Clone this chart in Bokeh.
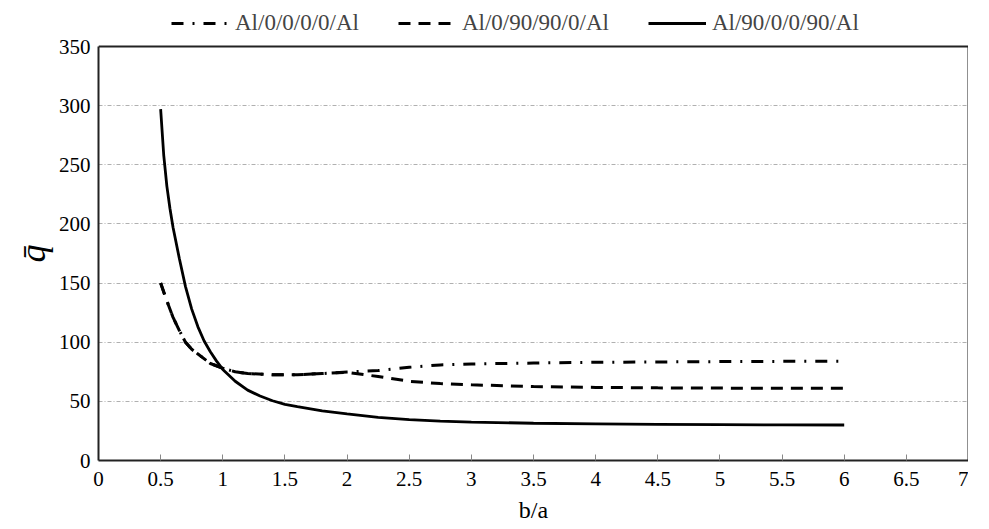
from bokeh.plotting import figure
from bokeh.models import Legend, LegendItem, FixedTicker, Range1d, LinearAxis, Span, Title
from bokeh.embed import file_html
from bokeh.resources import INLINE

# ---- data ----
x_solid = [0.5, 0.525, 0.55, 0.575, 0.6, 0.65, 0.7, 0.75, 0.8, 0.85, 0.9, 0.95, 1.0,
           1.1, 1.2, 1.3, 1.4, 1.5, 1.6, 1.8, 2.0, 2.25, 2.5, 2.75, 3.0, 3.5, 4.0,
           4.5, 5.0, 5.5, 6.0]
y_solid = [297, 258, 232, 213, 197, 171, 147, 128, 113, 101, 92, 84, 77,
           67, 59.5, 54.5, 50.5, 47.5, 45.5, 42, 39.5, 36.5, 34.5, 33.3, 32.5, 31.5, 31,
           30.6, 30.3, 30.1, 30]

x_layer = [0.5, 0.55, 0.6, 0.65, 0.7, 0.75, 0.8, 0.9, 1.0, 1.1, 1.2, 1.4, 1.6, 1.8,
           2.0, 2.25, 2.5, 2.75, 3.0, 3.5, 4.0, 4.5, 5.0, 5.5, 6.0]
y_dashdot = [150, 135, 121, 110, 100, 94, 90, 82, 78, 75, 73.5, 72.5, 72.5, 73.5,
             74.8, 76, 78.8, 80.8, 81.6, 82.4, 83, 83.3, 83.6, 83.8, 84]
y_dashed = [150, 135, 121, 110, 100, 94, 90, 82, 78, 75, 73.5, 72.5, 72.5, 73.5,
            74.5, 71, 67, 65, 64, 62.5, 61.8, 61.4, 61.2, 61.1, 61]

series_names = ["Al/0/0/0/0/Al", "Al/0/90/90/0/Al", "Al/90/0/0/90/Al"]

x_ticks = [0, 0.5, 1, 1.5, 2, 2.5, 3, 3.5, 4, 4.5, 5, 5.5, 6, 6.5, 7]
x_tick_labels = ["0", "0.5", "1", "1.5", "2", "2.5", "3", "3.5", "4", "4.5",
                 "5", "5.5", "6", "6.5", "7"]
y_ticks = [0, 50, 100, 150, 200, 250, 300, 350]
y_axis_max = 350

FONT = "Liberation Serif"
FRAME_H = 452
Y_TOP = y_axis_max * FRAME_H / 414.0   # headroom above the box for the legend

p = figure(frame_width=870, frame_height=FRAME_H, output_backend="svg",
           toolbar_location=None, x_range=Range1d(0, 7), y_range=Range1d(0, Y_TOP),
           min_border_left=98, min_border_right=0, min_border_top=8,
           min_border_bottom=40, background_fill_color="white",
           border_fill_color="white")

p.outline_line_color = None

r1 = p.line(x_layer, y_dashdot, line_color="black", line_width=3,
            line_dash="12 9 2 9")
r2 = p.line(x_layer, y_dashed, line_color="black", line_width=3,
            line_dash="12 8")
r3 = p.line(x_solid, y_solid, line_color="black", line_width=2.8)

# axes
p.xaxis.ticker = FixedTicker(ticks=x_ticks)
p.xaxis.major_label_overrides = {t: s for t, s in zip(x_ticks, x_tick_labels)}
p.yaxis.ticker = FixedTicker(ticks=y_ticks)
p.yaxis.bounds = (0, y_axis_max)
p.xaxis.minor_tick_line_color = None
p.yaxis.minor_tick_line_color = None
p.xaxis.major_tick_in = 6
p.xaxis.major_tick_out = 0
p.xaxis.major_tick_line_color = "#888888"
p.yaxis.major_tick_line_color = None
p.yaxis.major_tick_out = 0
for ax in (p.xaxis, p.yaxis):
    ax.axis_line_color = "#222222"
    ax.axis_line_width = 2
    ax.major_label_text_font = FONT
    ax.major_label_text_color = "black"
    ax.axis_label_text_font = FONT
    ax.axis_label_text_color = "black"
p.xaxis.major_label_text_font_size = "21px"
p.yaxis.major_label_text_font_size = "21px"
p.xaxis.major_label_standoff = 11
p.yaxis.major_label_standoff = 8
p.xaxis.axis_label = "b/a"
p.xaxis.axis_label_text_font_size = "24px"
p.xaxis.axis_label_text_font_style = "normal"
p.xaxis.axis_label_standoff = 8

# y-axis title (as a side title so it can sit at the box's middle)
ytitle = Title(text="q\u0304", align="left", offset=198, standoff=4,
               vertical_align="middle",
               text_font=FONT, text_font_size="36px", text_font_style="italic",
               text_color="black")
p.add_layout(ytitle, "left")

# right side and top of the box
right_ax = LinearAxis(ticker=FixedTicker(ticks=[]), bounds=(0, y_axis_max),
                      axis_line_color="#222222", axis_line_width=2,
                      major_tick_line_color=None, minor_tick_line_color=None,
                      major_label_standoff=0, axis_label_standoff=0)
p.add_layout(right_ax, "right")
p.add_layout(Span(location=y_axis_max, dimension="width",
                  line_color="#222222", line_width=2))

p.xgrid.grid_line_color = None
p.ygrid.grid_line_color = "#b0b0b0"
p.ygrid.grid_line_width = 1
p.ygrid.grid_line_dash = "4 2 1 2"

legend = Legend(items=[LegendItem(label=series_names[0], renderers=[r1]),
                       LegendItem(label=series_names[1], renderers=[r2]),
                       LegendItem(label=series_names[2], renderers=[r3])],
                orientation="horizontal", location=(73, 424),
                background_fill_alpha=0, border_line_color=None,
                label_text_font=FONT, label_text_font_size="23px",
                glyph_width=58, glyph_height=20, label_standoff=6,
                spacing=39, padding=0, margin=0, label_height=20)
p.add_layout(legend, "center")

open("out.html", "w").write(file_html(p, INLINE))
